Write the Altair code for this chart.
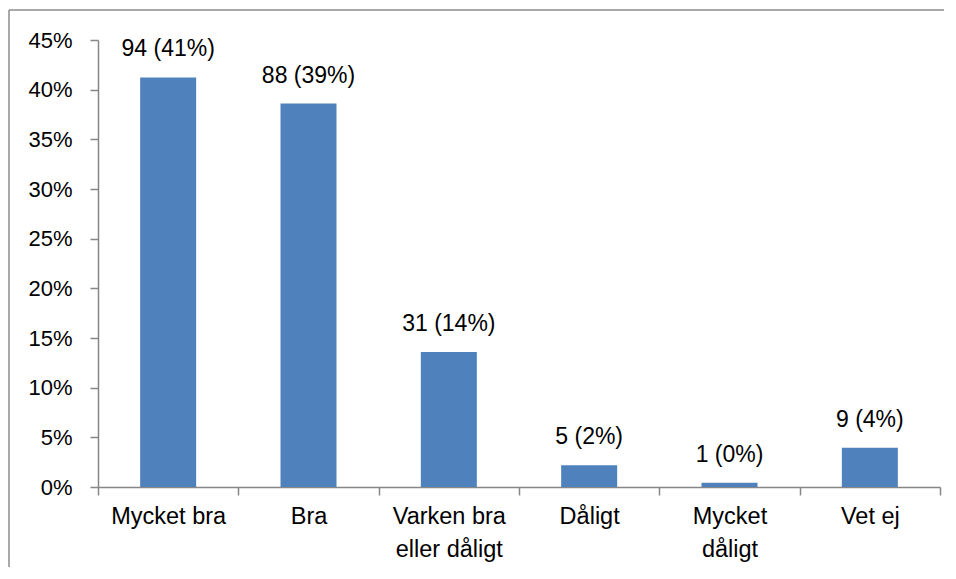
import altair as alt
import pandas as pd

categories = ["Mycket bra", "Bra", "Varken bra\neller dåligt", "Dåligt", "Mycket\ndåligt", "Vet ej"]
counts = [94, 88, 31, 5, 1, 9]
y_ticks = [0, 0.05, 0.10, 0.15, 0.20, 0.25, 0.30, 0.35, 0.40, 0.45]

total = sum(counts)
df = pd.DataFrame({"cat": categories, "n": counts})
df["pct"] = df["n"] / total
df["label"] = [f"{n} ({round(n / total * 100):.0f}%)" for n in counts]

FONT = "Liberation Sans"
GRAY = "#868686"
BLUE = "#4F81BD"

x_enc = alt.X(
    "cat:N",
    sort=categories,
    scale=alt.Scale(paddingInner=0, paddingOuter=0),
    axis=alt.Axis(
        title=None,
        labelAngle=0,
        tickBand="extent",
        tickSize=8,
        labelPadding=9,
        labelFontSize=23.5,
        labelFont=FONT,
        labelColor="#000000",
        labelLineHeight=33,
        labelExpr="split(datum.label, '\\n')",
        domainColor=GRAY,
        tickColor=GRAY,
        domainWidth=1.5,
        tickWidth=1.5,
    ),
)
y_enc = alt.Y(
    "pct:Q",
    scale=alt.Scale(domain=[0, 0.45], nice=False),
    axis=alt.Axis(
        title=None,
        values=y_ticks,
        format=".0%",
        grid=False,
        tickSize=8,
        labelPadding=18,
        labelFontSize=22,
        labelFont=FONT,
        labelColor="#000000",
        domainColor=GRAY,
        tickColor=GRAY,
        domainWidth=1.5,
        tickWidth=1.5,
    ),
)

base = alt.Chart(df)
bars = base.mark_bar(color=BLUE, size=56).encode(x=x_enc, y=y_enc)
text = base.mark_text(
    font=FONT, fontSize=23, color="#000000", baseline="alphabetic", dy=-21
).encode(x=alt.X("cat:N", sort=categories), y="pct:Q", text="label:N")

frame_data = alt.Data(values=[{"a": 1}])
frame_top = alt.Chart(frame_data).mark_rule(stroke="#8c8c8c", strokeWidth=1.5).encode(
    x=alt.value(-89), x2=alt.value(1000), y=alt.value(-30)
)
frame_left = alt.Chart(frame_data).mark_rule(stroke="#8c8c8c", strokeWidth=1.5).encode(
    x=alt.value(-89), y=alt.value(-30), y2=alt.value(700)
)

chart = alt.layer(bars, text, frame_top, frame_left).properties(
    width=842,
    height=447,
    autosize=alt.AutoSizeParams(type="none"),
    padding={"left": 90, "top": 32, "right": 4, "bottom": 80},
).configure_view(stroke=None)

chart.save("out.html", embed_options={"renderer": "svg", "actions": False})
